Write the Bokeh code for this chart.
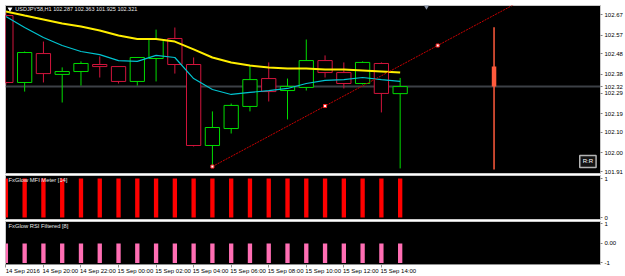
from bokeh.plotting import figure
from bokeh.models import Range1d, FixedTicker, Span, Label, ColumnDataSource, PrintfTickFormatter, LinearAxis
from bokeh.layouts import column
from bokeh.embed import file_html
from bokeh.resources import INLINE

FONT = "Liberation Sans"

# ---------------- data ----------------
symbol = "USDJPY58,H1"
bar_idx = list(range(22))
opens = [102.665, 102.341, 102.481, 102.380, 102.394, 102.428, 102.418, 102.346, 102.457, 102.554, 102.428,
         102.036, 102.118, 102.225, 102.360, 102.302, 102.317, 102.447, 102.389, 102.336, 102.433, 102.287]
highs = [102.680, 102.491, 102.539, 102.414, 102.443, 102.467, 102.418, 102.462, 102.597, 102.607, 102.462,
         102.201, 102.239, 102.423, 102.438, 102.360, 102.549, 102.472, 102.438, 102.443, 102.438, 102.363]
lows = [102.330, 102.297, 102.341, 102.244, 102.326, 102.365, 102.336, 102.326, 102.346, 102.384, 102.031,
        101.934, 102.094, 102.201, 102.249, 102.162, 102.302, 102.365, 102.312, 102.331, 102.196, 101.925]
closes = [102.341, 102.486, 102.384, 102.394, 102.433, 102.418, 102.346, 102.462, 102.549, 102.428, 102.036,
          102.123, 102.230, 102.355, 102.297, 102.322, 102.447, 102.389, 102.336, 102.438, 102.288, 102.321]

ma_slow = [102.685, 102.665, 102.646, 102.626, 102.612, 102.593, 102.568, 102.551, 102.551, 102.539, 102.501,
           102.462, 102.438, 102.423, 102.414, 102.409, 102.409, 102.404, 102.404, 102.399, 102.394, 102.389]
ma_fast = [102.660, 102.607, 102.559, 102.520, 102.491, 102.476, 102.447, 102.443, 102.472, 102.462, 102.360,
           102.307, 102.283, 102.293, 102.302, 102.312, 102.336, 102.351, 102.355, 102.365, 102.355, 102.346]

mfi_meter = [1, 1, 1, 1, 1, 1, 1, 1, 1, 1, 1, 1, 1, 1, 1, 1, 1, 1, 1, 1, 1, 1]
rsi_filtered = [-1, -1, -1, -1, -1, -1, -1, -1, -1, -1, -1, -1, -1, -1, -1, -1, -1, -1, -1, -1, -1, -1]

trend_x = [11, 23]
trend_y = [101.934, 102.520]

proj_x = [26]
proj_high = [102.608]
proj_low = [101.920]
proj_top = [102.418]
proj_bottom = [102.3215]

price_ticks = [102.67, 102.57, 102.48, 102.38, 102.29, 102.19, 102.10, 102.00, 101.91]
mfi_ticks = [0, 1]
rsi_ticks = [-1, 0, 1]
rsi_tick_labels = ["-1", "0.00", "1"]
time_tick_idx = [0, 2, 4, 6, 8, 10, 12, 14, 16, 18, 20]
time_tick_labels = ["14 Sep 2016", "14 Sep 20:00", "14 Sep 22:00", "15 Sep 00:00", "15 Sep 02:00",
                    "15 Sep 04:00", "15 Sep 06:00", "15 Sep 08:00", "15 Sep 10:00", "15 Sep 12:00",
                    "15 Sep 14:00"]

# ---------------- layout ----------------
xr = Range1d(-0.02, 31.67)
LBL = "6px"


def make_fig(height, yr, top, bottom, xloc=None):
    p = figure(width=625, height=height, x_range=xr, y_range=yr, output_backend="svg",
               toolbar_location=None, y_axis_location="right", x_axis_location=xloc,
               min_border_left=5, min_border_right=21, min_border_top=top, min_border_bottom=bottom,
               background_fill_color="black", border_fill_color="white",
               outline_line_color="#c8c8c8", outline_line_width=1)
    p.grid.visible = False
    ax = p.yaxis[0]
    ax.axis_line_color = "#c8c8c8"
    ax.major_tick_line_color = "#808080"
    ax.major_tick_out = 2
    ax.major_tick_in = 0
    ax.minor_tick_line_color = None
    ax.major_label_standoff = 2
    ax.major_label_text_font = FONT
    ax.major_label_text_font_size = LBL
    ax.major_label_text_color = "black"
    return p


# main price window
p1 = make_fig(175, Range1d(101.9004, 102.7136), 5, 2)
p1.yaxis[0].ticker = FixedTicker(ticks=price_ticks + [closes[-1]])
p1.yaxis[0].formatter = PrintfTickFormatter(format="%.2f")

price_line = Span(location=closes[-1], dimension="width", line_color="#3c4046", line_width=2, level="underlay")
p1.add_layout(price_line)

colors = ["#00dd00" if c >= o else "#d2143c" for o, c in zip(opens, closes)]
src = ColumnDataSource(dict(x=bar_idx, o=opens, h=highs, l=lows, c=closes,
                            top=[max(o, c) for o, c in zip(opens, closes)],
                            bottom=[min(o, c) for o, c in zip(opens, closes)],
                            color=colors))
p1.segment(x0="x", y0="l", x1="x", y1="h", line_color="color", line_width=1, source=src)
p1.vbar(x="x", width=0.76, top="top", bottom="bottom", fill_color="black", line_color="color",
        line_width=1, source=src)

p1.line(bar_idx, ma_slow, line_color="#ffee00", line_width=2)
p1.line(bar_idx, ma_fast, line_color="#00c4d0", line_width=1.2)

# trend line (ray) through two anchors
slope = (trend_y[1] - trend_y[0]) / (trend_x[1] - trend_x[0])
x_end = xr.end
p1.line([trend_x[0], x_end], [trend_y[0], trend_y[0] + slope * (x_end - trend_x[0])],
        line_color="#c80000", line_width=1, line_dash="2 1")
mid_x = (trend_x[0] + trend_x[1]) / 2
mid_y = (trend_y[0] + trend_y[1]) / 2
p1.scatter([trend_x[0], mid_x, trend_x[1]], [trend_y[0], mid_y, trend_y[1]], marker="square", size=3,
           fill_color="white", line_color="#ff2020", line_width=1)

# projection bar
p1.segment(x0=proj_x, y0=proj_low, x1=proj_x, y1=proj_high, line_color="#ff5a3c", line_width=1.5)
p1.vbar(x=proj_x, width=0.24, top=proj_top, bottom=proj_bottom, fill_color="#ff5a3c", line_color=None)

# chart shift marker and header
p1.scatter([22.4], [102.712], marker="inverted_triangle", size=7, fill_color="#8c96a8", line_color=None)
p1.scatter([0.22], [102.697], marker="inverted_triangle", size=5, fill_color="white", line_color=None)
title_text = "%s  %.3f %.3f %.3f %.3f" % (symbol, opens[-1], highs[-1], lows[-1], closes[-1])
p1.add_layout(Label(x=0.5, y=102.695, text=title_text, text_font=FONT, text_font_size="5.5px",
                    text_color="#e8e8e8", text_baseline="middle", text_align="left"))

p1.add_layout(Label(x=31.0, y=101.9585, text="R:R", text_font=FONT, text_font_size="6px",
                    text_color="white", text_align="center", text_baseline="middle",
                    background_fill_color="#141414", border_line_color="#b4b4b4", border_line_width=1.5,
                    padding=3))

# MFI meter window
p2 = make_fig(45, Range1d(-0.05, 1.08), 0, 1)
p2.yaxis[0].ticker = FixedTicker(ticks=mfi_ticks)
p2.vbar(x=bar_idx, width=0.23, top=mfi_meter, bottom=0, fill_color="#ff0000", line_color=None)
p2.add_layout(Label(x=0.14, y=1.03, text="FxGlow MFI Meter [14]", text_font=FONT, text_font_size="5.8px",
                    text_color="#e8e8e8", text_baseline="top", text_align="left"))

# RSI filtered window
p3 = make_fig(56, Range1d(-1.08, 1.12), 1, 0, xloc="below")
p3.yaxis[0].ticker = FixedTicker(ticks=rsi_ticks)
p3.yaxis[0].major_label_overrides = {t: l for t, l in zip(rsi_ticks, rsi_tick_labels)}
p3.vbar(x=bar_idx, width=0.23, top=0, bottom=rsi_filtered, fill_color="#ff6eb4", line_color=None)
p3.add_layout(Label(x=0.14, y=1.02, text="FxGlow RSI Filtered [8]", text_font=FONT, text_font_size="5.8px",
                    text_color="#e8e8e8", text_baseline="top", text_align="left"))

# time axis: tick marks at the bars, labels start at the tick (shifted label axis)
xa = p3.xaxis[0]
xa.ticker = FixedTicker(ticks=time_tick_idx)
xa.major_label_text_font_size = "0px"
xa.major_label_text_color = None
xa.major_label_standoff = 0
xa.axis_line_color = "#909090"
xa.major_tick_line_color = "#909090"
xa.major_tick_out = 3
xa.major_tick_in = 0
xa.minor_tick_line_color = None

label_shift = 0.9  # half a label width, in bars
p3.extra_x_ranges = {"lbl": Range1d(xr.start - label_shift, xr.end - label_shift)}
la = LinearAxis(x_range_name="lbl", ticker=FixedTicker(ticks=time_tick_idx),
                major_label_overrides={t: l for t, l in zip(time_tick_idx, time_tick_labels)},
                axis_line_color=None, major_tick_line_color=None, minor_tick_line_color=None,
                major_tick_out=0, major_tick_in=0, major_label_standoff=0,
                major_label_text_font=FONT, major_label_text_font_size=LBL, major_label_text_color="black")
p3.add_layout(la, "below")

layout = column(p1, p2, p3, spacing=0)
open("out.html", "w").write(file_html(layout, INLINE))
